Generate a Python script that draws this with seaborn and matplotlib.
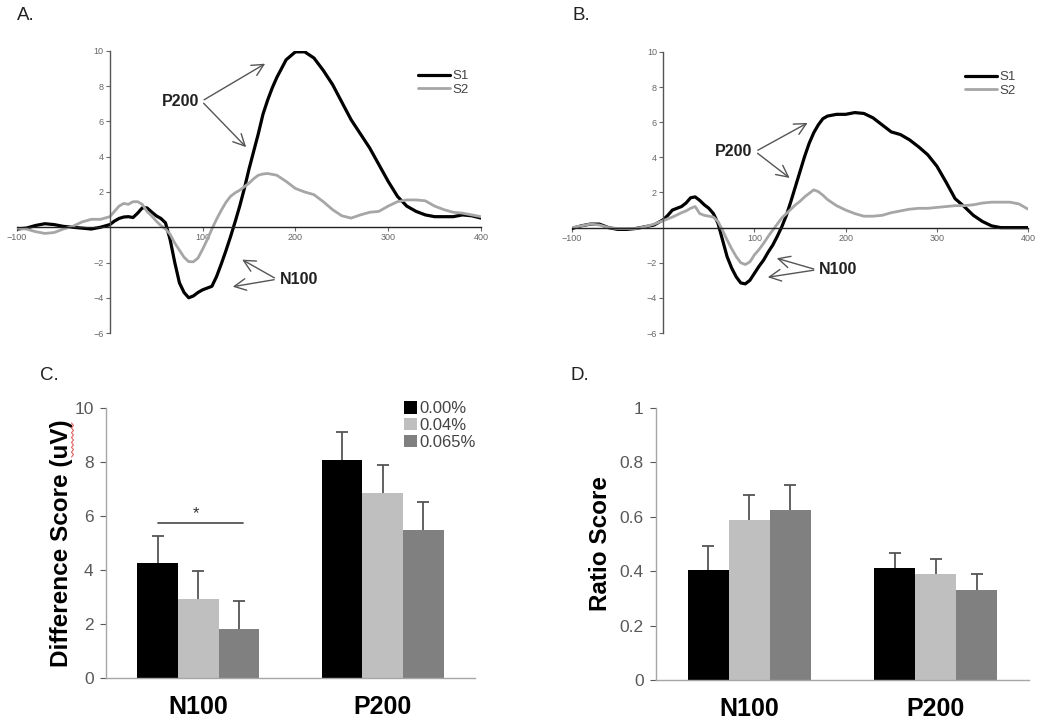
import numpy as np
import pandas as pd
import matplotlib
matplotlib.use("Agg")
import matplotlib.pyplot as plt
from matplotlib.container import BarContainer
from matplotlib.lines import Line2D
import seaborn as sns

# ---------------- data ----------------
time_ms = list(range(-100, 0, 10)) + list(range(0, 185, 5)) + list(range(190, 410, 10))

a_s1 = [-0.1, -0.05, 0.1, 0.2, 0.15, 0.05, 0.0, -0.05, -0.1, 0.0,
        0.15, 0.35, 0.5, 0.58, 0.6, 0.55, 0.8, 1.1, 1.1, 0.87, 0.65, 0.5, 0.25, -0.7,
        -2.0, -3.15, -3.7, -4.0, -3.9, -3.7, -3.55, -3.45, -3.35, -2.8, -2.1, -1.35,
        -0.55, 0.3, 1.2, 2.2, 3.3, 4.3, 5.3, 6.4, 7.2, 7.9, 8.5,
        9.5, 9.95, 9.95, 9.6, 8.9, 8.1, 7.1, 6.1, 5.3, 4.5, 3.55, 2.6, 1.75, 1.2,
        0.9, 0.7, 0.6, 0.6, 0.6, 0.7, 0.65, 0.52]
a_s2 = [-0.05, -0.1, -0.25, -0.35, -0.3, -0.1, 0.05, 0.3, 0.45, 0.45,
        0.6, 0.9, 1.2, 1.35, 1.3, 1.45, 1.45, 1.3, 0.9, 0.65, 0.35, 0.1, -0.1, -0.4,
        -0.9, -1.3, -1.7, -1.95, -1.96, -1.75, -1.25, -0.7, -0.1, 0.45, 0.95, 1.4,
        1.75, 1.95, 2.1, 2.3, 2.5, 2.75, 2.95, 3.02, 3.05, 3.0, 2.95,
        2.6, 2.2, 2.0, 1.85, 1.45, 1.0, 0.65, 0.52, 0.7, 0.85, 0.9, 1.2, 1.45, 1.55,
        1.55, 1.5, 1.2, 1.0, 0.85, 0.8, 0.7, 0.6]
b_s1 = [-0.05, 0.1, 0.2, 0.2, 0.0, -0.1, -0.1, -0.05, 0.05, 0.15,
        0.45, 0.7, 1.0, 1.1, 1.2, 1.4, 1.7, 1.75, 1.55, 1.3, 1.1, 0.8, 0.25, -0.7,
        -1.65, -2.3, -2.8, -3.15, -3.2, -3.0, -2.6, -2.2, -1.85, -1.4, -1.0, -0.5,
        0.05, 0.7, 1.5, 2.35, 3.2, 4.05, 4.8, 5.4, 5.85, 6.2, 6.35,
        6.45, 6.45, 6.55, 6.5, 6.25, 5.85, 5.45, 5.3, 5.0, 4.6, 4.15, 3.5, 2.6, 1.65,
        1.2, 0.7, 0.35, 0.1, 0.0, 0.0, 0.0, 0.0]
b_s2 = [0.0, 0.1, 0.2, 0.15, 0.0, -0.05, -0.05, -0.05, 0.05, 0.2,
        0.4, 0.5, 0.6, 0.72, 0.85, 0.95, 1.1, 1.2, 0.8, 0.7, 0.65, 0.6, 0.35, -0.15,
        -0.7, -1.2, -1.65, -2.0, -2.1, -1.95, -1.55, -1.25, -0.9, -0.5, -0.15, 0.2,
        0.55, 0.8, 1.05, 1.3, 1.5, 1.75, 1.95, 2.15, 2.05, 1.85, 1.6,
        1.25, 1.0, 0.8, 0.65, 0.65, 0.7, 0.85, 0.95, 1.05, 1.1, 1.1, 1.15, 1.2, 1.25,
        1.25, 1.3, 1.4, 1.45, 1.45, 1.45, 1.35, 1.05]

components = ["N100", "P200"]
conditions = ["0.00%", "0.04%", "0.065%"]
diff_mean = [4.25, 2.92, 1.81, 8.07, 6.85, 5.48]
diff_sem = [1.0, 1.03, 1.04, 1.03, 1.04, 1.04]
ratio_mean = [0.404, 0.59, 0.625, 0.41, 0.39, 0.33]
ratio_sem = [0.088, 0.09, 0.091, 0.056, 0.054, 0.06]

x_ticks_erp = [-100, 100, 200, 300, 400]
y_ticks_erp = [-6, -4, -2, 2, 4, 6, 8, 10]

# ---------------- style ----------------
sns.set_theme(style="white")
plt.rcParams["font.family"] = ["Liberation Sans", "DejaVu Sans"]

bar_colors = ["#000000", "#bfbfbf", "#808080"]
tick_gray = "#595959"
spine_gray = "#a6a6a6"

fig = plt.figure(figsize=(10.5, 7.23), dpi=100)

axA = fig.add_axes([0.0162, 0.5394, 0.4419, 0.3901])
axB = fig.add_axes([0.5448, 0.5394, 0.4343, 0.3887])
axC = fig.add_axes([0.1010, 0.0622, 0.3514, 0.3734])
axD = fig.add_axes([0.6248, 0.0595, 0.3552, 0.3762])


def erp_panel(ax, s1, s2):
    sns.lineplot(x=time_ms, y=s1, ax=ax, color="black", lw=2.3, label="S1")
    sns.lineplot(x=time_ms, y=s2, ax=ax, color="#a6a6a6", lw=2.0, label="S2")
    ax.set_xlim(-100, 400)
    ax.set_ylim(-6, 10)
    for s in ["top", "right"]:
        ax.spines[s].set_visible(False)
    ax.spines["left"].set_position(("data", 0))
    ax.spines["bottom"].set_position(("data", 0))
    ax.spines["left"].set_color("#555555")
    ax.spines["bottom"].set_color("#222222")
    ax.spines["left"].set_linewidth(1.0)
    ax.spines["bottom"].set_linewidth(1.0)
    ax.set_xticks(x_ticks_erp)
    ax.set_yticks(y_ticks_erp)
    ax.tick_params(axis="both", labelsize=6.5, colors="#666666", length=3,
                   width=0.8, direction="out", pad=1.5)
    ax.tick_params(axis="both", which="both", left=True, bottom=True)
    ax.legend(loc="upper right", bbox_to_anchor=(1.0, 0.975), frameon=False,
              fontsize=9.5, handlelength=2.4, labelspacing=0.1, handletextpad=0.2,
              labelcolor="#444444")
    ax.set_xlabel("")
    ax.set_ylabel("")
    ax.patch.set_alpha(0)


erp_panel(axA, a_s1, a_s2)
erp_panel(axB, b_s1, b_s2)

arrow_kw = dict(arrowstyle="->,head_length=0.7,head_width=0.35", color="#555555", lw=1.0)

def annotate_peak(ax, label, text_xy, targets):
    for tgt in targets:
        ax.annotate("", xy=tgt, xytext=text_xy, arrowprops=arrow_kw)
    ax.text(text_xy[0] - 3, text_xy[1], label, ha="right", va="center",
            fontsize=11.5, fontweight="bold", color="#222222")

def annotate_n100(ax, text_xy, targets):
    for tgt in targets:
        ax.annotate("", xy=tgt, xytext=text_xy, arrowprops=arrow_kw)
    ax.text(text_xy[0] + 3, text_xy[1], "N100", ha="left", va="center",
            fontsize=11.5, fontweight="bold", color="#222222")

annotate_peak(axA, "P200", (99, 7.15), [(170, 9.36), (149, 4.43)])
annotate_n100(axA, (180, -2.95), [(140, -1.76), (129.5, -3.4)])
annotate_peak(axB, "P200", (101, 4.33), [(161, 6.04), (141, 2.73)])
annotate_n100(axB, (168, -2.4), [(121.5, -1.7), (111.6, -2.85)])


def bar_panel(ax, means, sems, ylim, yticks, ylabel, legend, labelpad):
    df = pd.DataFrame({
        "component": [c for c in components for _ in conditions],
        "condition": conditions * len(components),
        "value": means,
        "sem": sems,
    })
    sns.barplot(data=df, x="component", y="value", hue="condition",
                hue_order=conditions, order=components, palette=bar_colors,
                width=0.66, errorbar=None, saturation=1, ax=ax,
                edgecolor="none", linewidth=0, legend=legend)
    bar_conts = [c for c in ax.containers if isinstance(c, BarContainer)]
    for hi, cont in enumerate(bar_conts):
        for ci, bar in enumerate(cont.patches):
            idx = ci * len(conditions) + hi
            xc = bar.get_x() + bar.get_width() / 2
            _, caps, _ = ax.errorbar(xc, bar.get_height(), yerr=[[0], [sems[idx]]],
                                     fmt="none", ecolor="#555555", elinewidth=1.3,
                                     capsize=4, capthick=1.3, zorder=1)
            if len(caps) > 1:
                caps[0].set_visible(False)
    ax.set_ylim(*ylim)
    ax.set_xlim(-0.5, 1.5)
    ax.set_yticks(yticks)
    ax.set_yticklabels([f"{t:g}" for t in yticks])
    for s in ["top", "right"]:
        ax.spines[s].set_visible(False)
    for s in ["left", "bottom"]:
        ax.spines[s].set_color(spine_gray)
        ax.spines[s].set_linewidth(1.0)
    ax.tick_params(axis="y", labelsize=12.5, colors=tick_gray, length=4, width=0.8,
                   left=True, pad=5)
    ax.tick_params(axis="x", labelsize=18, length=0, pad=12)
    for lab in ax.get_xticklabels():
        lab.set_fontweight("bold")
        lab.set_color("black")
    ax.set_xlabel("")
    ax.set_ylabel(ylabel, fontsize=17.5, fontweight="bold", color="black",
                  labelpad=labelpad)
    ax.patch.set_alpha(0)
    return bar_conts


conts_c = bar_panel(axC, diff_mean, diff_sem, (0, 10), [0, 2, 4, 6, 8, 10],
                    "Difference Score (uV)", True, 1)
axC.legend(loc="upper right", bbox_to_anchor=(1.02, 1.05), frameon=False, fontsize=12,
           handlelength=0.75, handleheight=0.75, handletextpad=0.15, labelspacing=0.1,
           labelcolor="#444444", borderaxespad=0)
# significance bar
b0 = conts_c[0].patches[0]
b2 = conts_c[2].patches[0]
x_left = b0.get_x() + b0.get_width() / 2
x_right = b2.get_x() + b2.get_width() / 2 + 0.02
axC.plot([x_left, x_right], [5.74, 5.74], color="#555555", lw=1.3)
axC.text((x_left + x_right) / 2 - 0.02, 5.8, "*", ha="center", va="bottom",
         fontsize=12, color="#333333")

bar_panel(axD, ratio_mean, ratio_sem, (0, 1), [0, 0.2, 0.4, 0.6, 0.8, 1],
          "Ratio Score", False, 5)

# spell-check squiggle next to "uV" (as in the reference image)
sq_y = np.linspace(423, 457, 15)
sq_x = 72.5 + np.where(np.arange(15) % 2 == 0, -1.0, 1.0)
fig.lines.append(Line2D(sq_x / 1050, 1 - sq_y / 723, transform=fig.transFigure,
                        color="#e06060", lw=0.8))

# panel letters
for txt, x, y in [("A.", 17, 15), ("B.", 573, 15), ("C.", 40, 375), ("D.", 570, 375)]:
    fig.text(x / 1050, 1 - y / 723, txt, fontsize=13.5, color="#222222",
             ha="left", va="center")

fig.savefig("out.png", dpi=100)
